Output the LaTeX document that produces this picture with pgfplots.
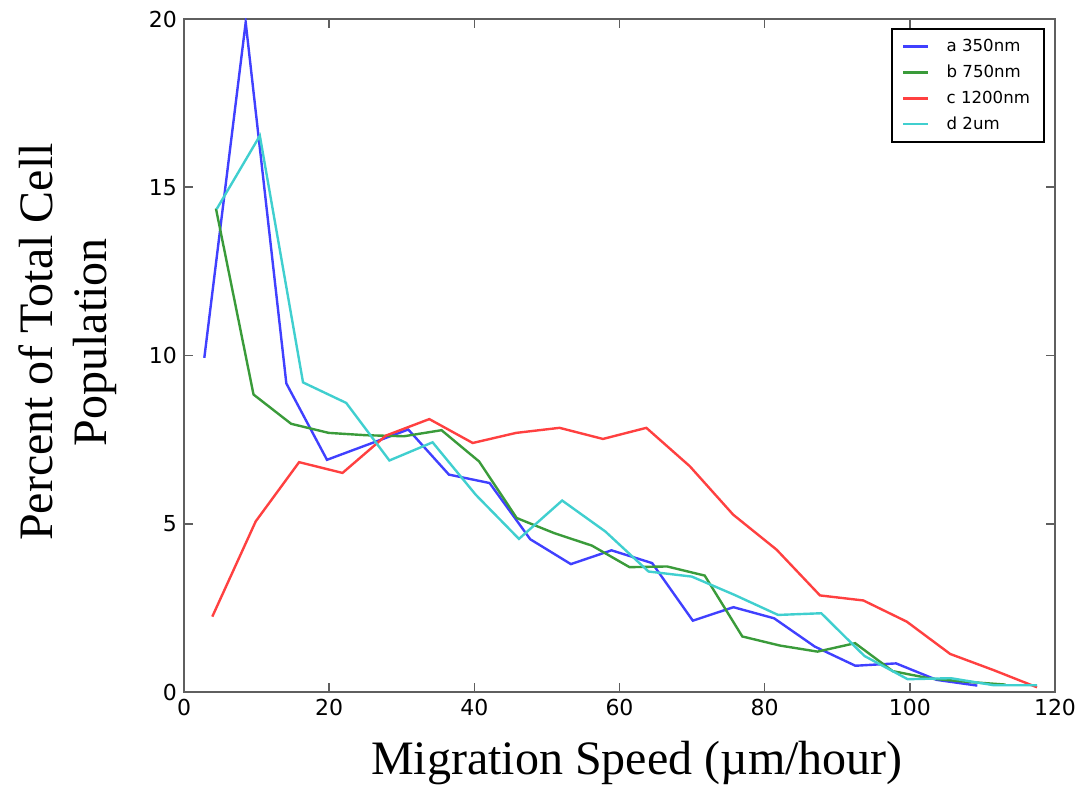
\documentclass[border=0pt]{standalone}
\usepackage{pgfplots}
\pgfplotsset{compat=1.18}
\usepackage{fontspec}
\setmainfont{Liberation Serif}
\newfontfamily\djv{DejaVu Sans}
\definecolor{cA}{RGB}{64,64,255}
\definecolor{cB}{RGB}{58,155,58}
\definecolor{cC}{RGB}{255,64,64}
\definecolor{cD}{RGB}{64,207,207}
\definecolor{axgray}{RGB}{95,95,95}
\begin{document}
\begin{tikzpicture}
\begin{axis}[name=ax, scale only axis, width=435.5pt, height=336.5pt,
  xmin=0, xmax=120, ymin=0, ymax=20,
  xtick={0,20,...,120}, ytick={0,5,...,20},
  tick align=inside, major tick length=4.5pt,
  tick style={axgray, line width=0.8pt},
  axis line style={axgray, line width=1.3pt},
  /pgf/number format/assume math mode=true,
  ticklabel style={font=\djv\fontsize{11}{12}\selectfont},
  xlabel={Migration Speed (µm/hour)},
  xlabel style={font=\fontsize{24}{27}\selectfont, at={(axis description cs:0.52,-0.1233)}, anchor=base},
  ylabel={Percent of Total Cell\\Population},
  ylabel style={font=\fontsize{24}{27}\selectfont, align=center, at={(axis description cs:-0.077,0.52)}, anchor=south, inner sep=0pt},
  legend cell align=left,
  legend image code/.code={\draw[#1] (0pt,0pt) -- (12.5pt,0pt); \path (19pt,0pt);},
  legend style={at={(0.9885,0.9866)}, anchor=north east, draw=black, line width=1pt,
    font=\djv\fontsize{8.3}{10}\selectfont, inner xsep=5pt, inner ysep=3pt, row sep=1.2pt},
  every axis plot/.append style={line width=1.2pt},
]
\addplot[cA] coordinates {
(2.8,9.93) (8.5,19.9) (14.1,9.17) (19.7,6.9) (25.3,7.35) (30.9,7.8) (36.5,6.46) (42.1,6.21) (47.7,4.54) (53.3,3.80)
(58.9,4.21) (64.5,3.83) (70.1,2.12) (75.7,2.52) (81.3,2.19) (86.9,1.35) (92.5,0.78) (98.1,0.85) (103.7,0.36) (109.3,0.19)};
\addlegendentry{a 350nm}
\addplot[cB] coordinates {
(4.40,14.37) (9.58,8.84) (14.76,7.97) (19.94,7.70) (25.12,7.63) (30.30,7.60) (35.48,7.78) (40.66,6.85) (45.84,5.17) (51.02,4.72)
(56.20,4.35) (61.38,3.71) (66.56,3.73) (71.74,3.46) (76.92,1.65) (82.10,1.38) (87.28,1.20) (92.46,1.45) (97.64,0.62) (102.82,0.40)
(108.00,0.30) (113.18,0.22)};
\addlegendentry{b 750nm}
\addplot[cC] coordinates {
(3.90,2.24) (9.88,5.07) (15.86,6.83) (21.84,6.51) (27.82,7.62) (33.80,8.11) (39.78,7.40) (45.76,7.70) (51.74,7.85) (57.72,7.52)
(63.70,7.85) (69.68,6.71) (75.66,5.27) (81.64,4.23) (87.62,2.87) (93.60,2.72) (99.58,2.09) (105.56,1.13) (111.54,0.65) (117.52,0.14)};
\addlegendentry{c 1200nm}
\addplot[cD] coordinates {
(4.50,14.35) (10.45,16.53) (16.40,9.20) (22.35,8.59) (28.30,6.88) (34.25,7.42) (40.20,5.86) (46.15,4.55) (52.10,5.69) (58.05,4.77)
(64.00,3.58) (69.95,3.43) (75.90,2.88) (81.85,2.29) (87.80,2.34) (93.75,1.07) (99.70,0.38) (105.65,0.41) (111.60,0.20) (117.55,0.20)};
\addlegendentry{d 2um}
\end{axis}
\pgfresetboundingbox
\path[use as bounding box] ([shift={(-92pt,-50pt)}]ax.south west) rectangle ([shift={(14pt,9.5pt)}]ax.north east);
\end{tikzpicture}
\end{document}
